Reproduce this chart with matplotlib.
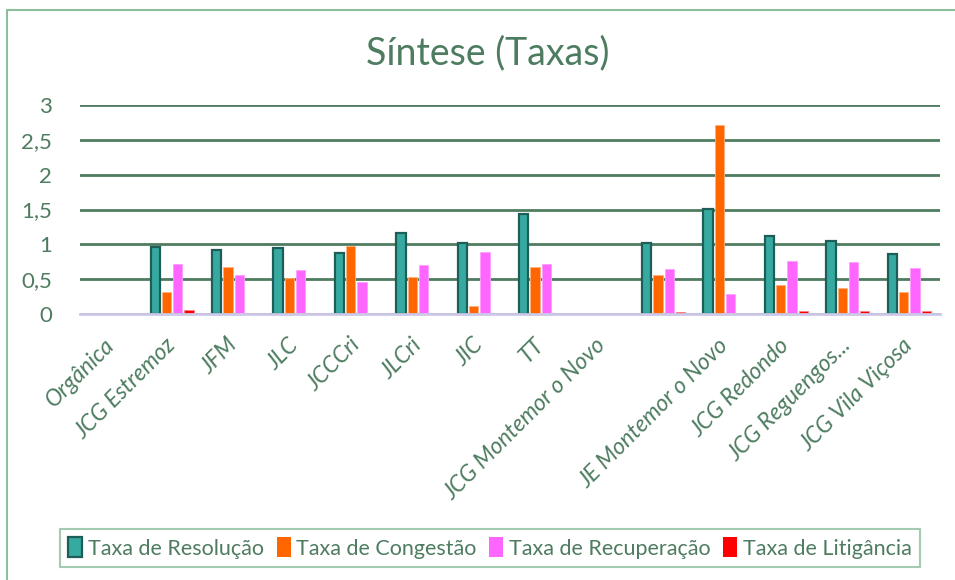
import matplotlib
matplotlib.use("Agg")
import matplotlib.pyplot as plt
import numpy as np
from matplotlib.patches import Rectangle, Patch

plt.rcParams['font.family'] = ['Lato', 'DejaVu Sans']

categories = ["Orgânica", "JCG Estremoz", "JFM", "JLC", "JCCCri", "JLCri", "JIC", "TT",
              "JCG Montemor o Novo", "", "JE Montemor o Novo", "JCG Redondo",
              "JCG Reguengos...", "JCG Vila Viçosa"]
series_names = ["Taxa de Resolução", "Taxa de Congestão", "Taxa de Recuperação", "Taxa de Litigância"]
resolucao = [0, 0.96, 0.92, 0.95, 0.87, 1.16, 1.02, 1.43, 0, 1.02, 1.51, 1.12, 1.05, 0.86]
congestao = [0, 0.32, 0.67, 0.52, 0.98, 0.53, 0.12, 0.67, 0, 0.56, 2.72, 0.41, 0.37, 0.32]
recuperacao = [0, 0.72, 0.56, 0.63, 0.46, 0.71, 0.89, 0.72, 0, 0.64, 0.29, 0.76, 0.75, 0.66]
litigancia = [0, 0.06, 0.02, 0.02, 0.02, 0.02, 0.02, 0.015, 0, 0.03, 0.015, 0.04, 0.05, 0.05]
yticks = [0, 0.5, 1, 1.5, 2, 2.5, 3]
ytick_labels = ["0", "0,5", "1", "1,5", "2", "2,5", "3"]

txt = "#4E7C60"
colors = ["#36AAA0", "#FF6600", "#FF66FF", "#FF0000"]
edges = ["#1E5E58", "#FFB080", "#FFA0FF", "#FF8080"]

fig = plt.figure(figsize=(9.55, 5.8), dpi=100)
ax = fig.add_axes([80/955, (580-314)/580, 860/955, (314-105)/580])

x = np.arange(len(categories))
slot = 0.184
w = 0.15
data = [resolucao, congestao, recuperacao, litigancia]
for k, (vals, c, e) in enumerate(zip(data, colors, edges)):
    base_lw = 1.6 if k == 0 else 0.6
    lws = [base_lw if v > 0 else 0 for v in vals]
    ax.bar(x + (k - 1.5) * slot, vals, width=w, color=c, edgecolor=e, linewidth=lws, zorder=3)

ax.set_xlim(-0.5, len(categories) - 0.5)
ax.set_ylim(0, 3)
ax.set_yticks(yticks)
ax.set_yticklabels(ytick_labels, fontsize=16, color=txt)
ax.yaxis.grid(True, color="#4E7C60", linewidth=2, zorder=0)
ax.set_axisbelow(True)
ax.tick_params(axis='y', length=0, pad=20)
ax.tick_params(axis='x', length=0, pad=20)
ax.set_xticks(x)
ax.set_xticklabels(categories, rotation=45, ha='right', va='center', rotation_mode='anchor',
                   fontsize=16.5, color=txt, fontstyle='italic')
for s in ["top", "right", "left"]:
    ax.spines[s].set_visible(False)
ax.spines["bottom"].set_color("#CCC8E8")
ax.spines["bottom"].set_linewidth(2)
ax.spines["bottom"].set_zorder(4)

fig.text(488/955, 1 - 53/580, "Síntese (Taxas)", ha='center', va='center', fontsize=27, color=txt)

# chart border
fig.patches.append(Rectangle((7/955, -0.1), 1.2, (580-10)/580 + 0.1, transform=fig.transFigure,
                             fill=False, edgecolor="#8DBF9F", linewidth=1.5))

handles = [Patch(facecolor=c, edgecolor=e, linewidth=(1.6 if i == 0 else 0)) for i, (c, e) in enumerate(zip(colors, edges))]
leg = fig.legend(handles, series_names, loc='center', bbox_to_anchor=(490/955, 1 - 548/580),
                 ncol=4, frameon=True, fontsize=15.5, handlelength=0.65, handleheight=1.0,
                 handletextpad=0.25, columnspacing=0.6, borderpad=0.4, fancybox=False)
leg.get_frame().set_edgecolor("#8DBF9F")
leg.get_frame().set_linewidth(1.5)
for t in leg.get_texts():
    t.set_color(txt)

fig.savefig("out.png", dpi=100)
